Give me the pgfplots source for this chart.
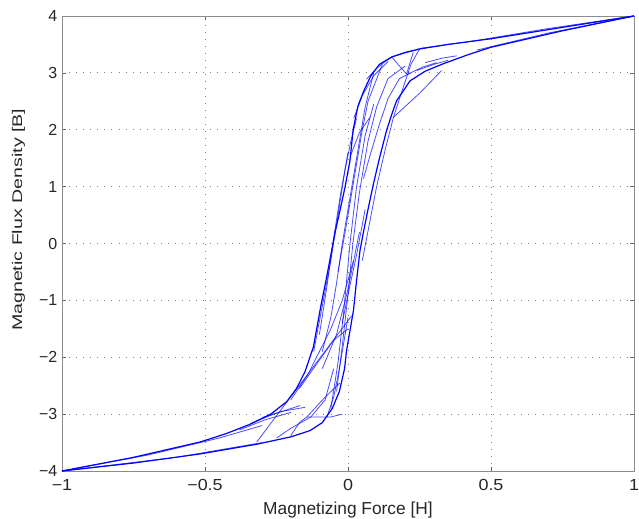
\documentclass[border=0pt]{standalone}
\usepackage{pgfplots}
\pgfplotsset{compat=1.18}
\usepackage{fontspec}
\setmainfont{Liberation Sans}

\pgfplotsset{
  bh/.style={blue, line width=0.6pt, draw opacity=0.7},
  major/.style={blue, line width=0.9pt},
}

\begin{document}
\begin{tikzpicture}[x=0.75pt,y=0.75pt]
% page frame: 639 x 518 units, axis box from (62,16) to (634,471) in screen units
\path[use as bounding box] (-62,-47) rectangle (577,471);
\begin{axis}[
  at={(0,0)}, anchor=south west,
  scale only axis,
  width=429pt, height=341.25pt,
  xmin=-1, xmax=1, ymin=-4, ymax=4,
  xtick={-1,-0.5,0,0.5,1},
  xticklabels={−1,−0.5,0,0.5,1},
  ytick={-4,-3,-2,-1,0,1,2,3,4},
  yticklabels={−4,−3,−2,−1,0,1,2,3,4},
  tick align=inside,
  tick style={black!60, line width=0.4pt},
  major tick length=3pt,
  grid=major,
  grid style={black!50, line width=0.7pt, dash pattern=on 0.7pt off 4.6pt},
  axis line style={black!45, line width=0.6pt},
  ticklabel style={font=\fontsize{12}{14}\selectfont, text=black!85},
  xticklabel style={xscale=1.12, yshift=-3pt},
  label style={text=black!85},
  xlabel={\fontsize{13}{15}\selectfont Magnetizing Force [H]},
  ylabel={\fontsize{10.5}{12}\selectfont\scalebox{1.4}[1.0]{Magnetic Flux Density [B]}},
  xlabel style={at={(axis description cs:0.5,-0.086)}, anchor=center},
  ylabel style={at={(axis description cs:-0.076,0.552)}, anchor=center},
  clip=false,
]

% major loop, descending branch
\addplot[major] coordinates {
  (1,4) (0.75,3.8) (0.5,3.6) (0.35,3.5) (0.25,3.42) (0.2,3.36) (0.153,3.28)
  (0.11,3.15) (0.08,2.95) (0.055,2.68) (0.035,2.42) (0.018,2.0) (0.007,1.46)
  (-0.01,1.0) (-0.028,0.58) (-0.045,0.2) (-0.057,-0.12) (-0.075,-0.6)
  (-0.095,-1.1) (-0.121,-1.82) (-0.15,-2.25) (-0.18,-2.55) (-0.214,-2.78)
  (-0.27,-3.0) (-0.343,-3.18) (-0.43,-3.35) (-0.517,-3.49) (-0.75,-3.76) (-1,-4)
};
% major loop, ascending branch
\addplot[major] coordinates {
  (-1,-4) (-0.75,-3.86) (-0.517,-3.70) (-0.32,-3.53) (-0.2,-3.4) (-0.133,-3.29)
  (-0.09,-3.15) (-0.055,-2.9) (-0.03,-2.6) (-0.012,-2.2) (-0.005,-1.88)
  (0.008,-1.5) (0.019,-1.18) (0.03,-0.65) (0.042,-0.12) (0.054,0.2) (0.07,0.6)
  (0.089,1.05) (0.11,1.5) (0.135,1.99) (0.155,2.3) (0.17,2.51) (0.217,2.86)
  (0.27,3.03) (0.333,3.16) (0.42,3.32) (0.5,3.45) (0.75,3.74) (1,4)
};
% second pass near the saturation ends
\addplot[bh] coordinates {(1,4) (0.7,3.78) (0.45,3.57) (0.25,3.43)};
\addplot[bh] coordinates {(0.45,3.4) (0.7,3.7) (1,4)};
\addplot[bh] coordinates {(-1,-4) (-0.7,-3.72) (-0.45,-3.42) (-0.3,-3.2)};
\addplot[bh] coordinates {(-0.3,-3.5) (-0.6,-3.76) (-1,-4)};

% minor loops, upper part
\addplot[bh] coordinates {(0.065,2.89) (0.1,3.08) (0.13,3.2) (0.153,3.28)};
\addplot[bh] coordinates {(0.153,3.28) (0.18,3.12) (0.205,2.98) (0.215,3.15) (0.228,3.36)};
\addplot[bh] coordinates {(0.25,3.42) (0.22,3.15) (0.19,2.7) (0.159,2.22) (0.13,1.65) (0.1,1.0) (0.075,0.35) (0.05,-0.3)};
\addplot[bh] coordinates {(0.327,3.04) (0.25,2.64) (0.159,2.22)};
\addplot[bh] coordinates {(0.21,2.98) (0.26,3.1) (0.31,3.18)};
\addplot[bh] coordinates {(0.24,3.04) (0.3,3.15) (0.35,3.22)};
\addplot[bh] coordinates {(0.27,3.18) (0.33,3.26) (0.38,3.3)};
\addplot[bh] coordinates {(0.16,3.29) (0.2,3.35) (0.25,3.42)};
\addplot[bh] coordinates {(0.054,1.14) (0.08,1.6) (0.11,2.1) (0.14,2.55) (0.18,2.9) (0.22,3.0)};
\addplot[bh] coordinates {(0.007,1.52) (0.04,1.95) (0.077,2.22)};
\addplot[bh] coordinates {(0.02,2.2) (0.05,2.6) (0.09,2.95) (0.14,3.2)};
\addplot[bh] coordinates {(0.09,3.0) (0.06,2.4) (0.04,1.8) (0.02,1.2) (0.0,0.6) (-0.02,0.0) (-0.04,-0.7) (-0.06,-1.3) (-0.09,-1.9)};
\addplot[bh] coordinates {(0.12,3.15) (0.07,2.5) (0.05,2.0) (0.03,1.4) (0.01,0.8) (-0.01,0.2) (-0.035,-0.5)};

% minor loops, central part
\addplot[bh] coordinates {(-0.04,-2.6) (-0.02,-1.8) (0.0,-0.9) (0.017,0.0) (0.04,0.9) (0.07,1.8) (0.1,2.4) (0.14,2.9) (0.2,3.12)};
\addplot[bh] coordinates {(-0.06,-2.9) (-0.035,-2.1) (-0.015,-1.2) (0.007,0.0) (0.03,1.0) (0.06,1.9) (0.09,2.45)};
\addplot[bh] coordinates {(-0.12,-1.9) (-0.09,-1.1) (-0.06,-0.3) (-0.035,0.5) (-0.01,1.3) (0.01,1.8) (0.03,2.2)};
\addplot[bh] coordinates {(-0.1,-1.6) (-0.075,-0.8) (-0.05,0.1) (-0.025,0.9) (0.0,1.6)};
\addplot[bh] coordinates {(0.04,0.2) (0.0,-0.8) (-0.04,-1.6) (-0.09,-2.2)};
\addplot[bh] coordinates {(0.06,0.6) (0.03,-0.2) (0.0,-0.9) (-0.02,-1.4)};
\addplot[bh] coordinates {(-0.17,-2.55) (-0.1,-2.05) (-0.05,-1.7) (0.0,-1.5)};

% minor loops, lower part
\addplot[bh] coordinates {(-0.319,-3.49) (-0.153,-2.38) (0.013,-1.27)};
\addplot[bh] coordinates {(-0.343,-3.17) (-0.26,-3.0) (-0.168,-2.85)};
\addplot[bh] coordinates {(-0.38,-3.28) (-0.29,-3.1) (-0.2,-2.97)};
\addplot[bh] coordinates {(-0.3,-3.06) (-0.23,-2.95) (-0.15,-2.88)};
\addplot[bh] coordinates {(-0.2,-3.38) (-0.17,-3.15) (-0.144,-3.05) (-0.08,-2.7) (-0.028,-2.45)};
\addplot[bh] coordinates {(-0.144,-3.05) (-0.06,-3.05) (-0.02,-3.0)};
\addplot[bh] coordinates {(-0.074,-3.05) (-0.05,-2.7) (-0.03,-2.2) (-0.01,-1.6) (0.0,-1.3)};
\addplot[bh] coordinates {(0.019,-0.3) (-0.02,-1.0) (-0.06,-1.5) (-0.1,-1.9) (-0.14,-2.3) (-0.2,-2.75)};
\addplot[bh] coordinates {(-0.25,-3.42) (-0.2,-3.25) (-0.13,-3.05) (-0.08,-2.75) (-0.05,-2.2)};
\end{axis}
\end{tikzpicture}
\end{document}
